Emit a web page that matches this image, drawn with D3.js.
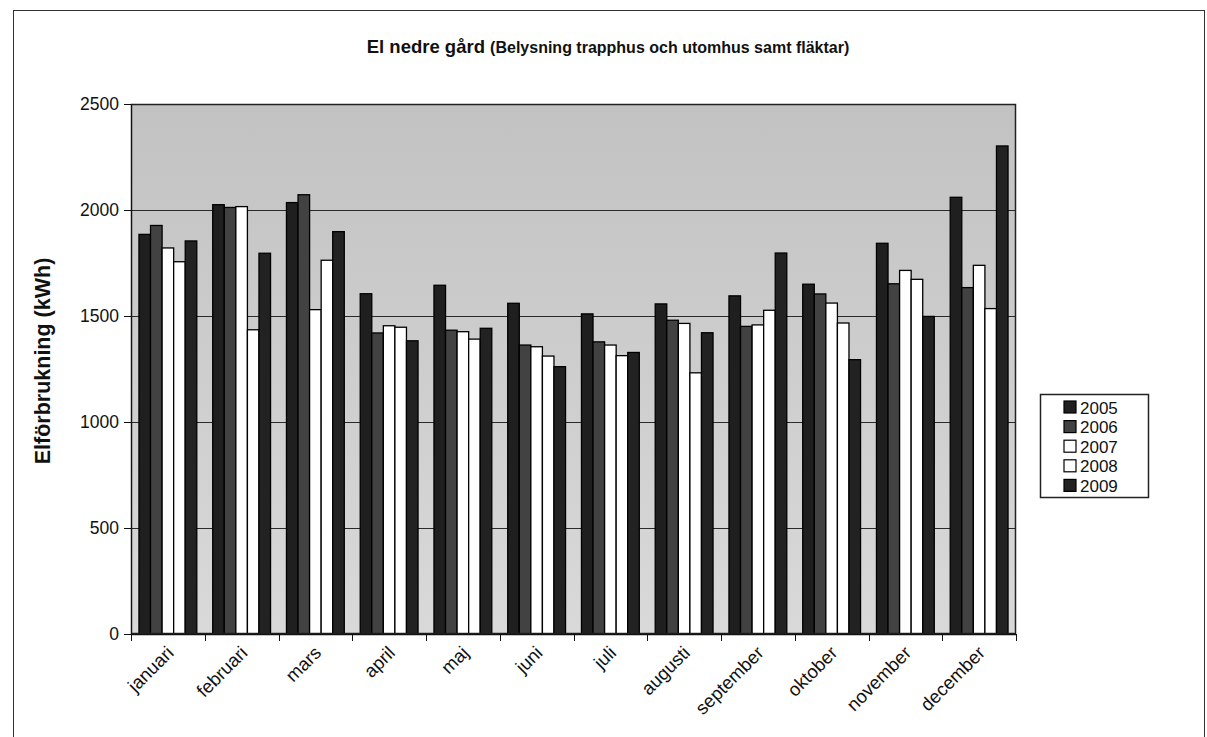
<!DOCTYPE html>
<html>
<head>
<meta charset="utf-8">
<script src="https://cdn.jsdelivr.net/npm/d3@7"></script>
<style>
  html, body { margin: 0; padding: 0; background: #fff; }
  svg { display: block; font-family: "Liberation Sans", Arial, sans-serif; }
</style>
</head>
<body>
<svg id="chart" width="1207" height="737"></svg>
<script>
// Monthly electricity use, lower yard (stair & outdoor lighting, fans), kWh
const months = ["januari", "februari", "mars", "april", "maj", "juni",
                "juli", "augusti", "september", "oktober", "november", "december"];
const years = ["2005", "2006", "2007", "2008", "2009"];

const v2005 = [1885, 2025, 2035, 1605, 1645, 1560, 1510, 1557, 1595, 1650, 1843, 2060];
const v2006 = [1927, 2012, 2072, 1420, 1433, 1363, 1378, 1480, 1451, 1604, 1652, 1634];
const v2007 = [1821, 2016, 1530, 1454, 1426, 1355, 1363, 1465, 1458, 1561, 1715, 1739];
const v2008 = [1756, 1435, 1763, 1447, 1391, 1311, 1313, 1232, 1527, 1467, 1673, 1535];
const v2009 = [1854, 1796, 1898, 1383, 1442, 1261, 1328, 1421, 1797, 1294, 1498, 2302];

const yTicks = [0, 500, 1000, 1500, 2000, 2500];

const series = [v2005, v2006, v2007, v2008, v2009];
const fills = ["#1f1f1f", "#424242", "#ffffff", "#ffffff", "#222222"];

const svg = d3.select("#chart");

// outer chart frame
svg.append("rect")
  .attr("x", 13.5).attr("y", 10.5)
  .attr("width", 1191).attr("height", 740)
  .attr("fill", "#fff").attr("stroke", "#333").attr("stroke-width", 1);

const plot = { left: 131, right: 1016, top: 104, bottom: 634 };

const x0 = d3.scaleBand()
  .domain(months)
  .range([plot.left, plot.right])
  .paddingInner(0.216)
  .paddingOuter(0.108);

const x1 = d3.scaleBand()
  .domain(years)
  .range([0, x0.bandwidth()]);

const y = d3.scaleLinear()
  .domain([0, 2500])
  .range([plot.bottom, plot.top]);

// plot area background
const defs = svg.append("defs");
const grad = defs.append("linearGradient")
  .attr("id", "plotBg").attr("x1", 0).attr("y1", 0).attr("x2", 0).attr("y2", 1);
grad.append("stop").attr("offset", "0%").attr("stop-color", "#c2c2c2");
grad.append("stop").attr("offset", "100%").attr("stop-color", "#d9d9d9");

svg.append("rect")
  .attr("x", plot.left).attr("y", plot.top)
  .attr("width", plot.right - plot.left).attr("height", plot.bottom - plot.top)
  .attr("fill", "url(#plotBg)");

// horizontal gridlines
svg.append("g")
  .selectAll("line")
  .data(yTicks.filter(t => t > 0 && t < 2500))
  .join("line")
  .attr("x1", plot.left).attr("x2", plot.right)
  .attr("y1", d => Math.round(y(d)) + 0.5).attr("y2", d => Math.round(y(d)) + 0.5)
  .attr("stroke", "#2a2a2a").attr("stroke-width", 1);

// bars
const groups = svg.append("g")
  .selectAll("g")
  .data(months)
  .join("g")
  .attr("transform", d => `translate(${x0(d)},0)`);

groups.selectAll("rect")
  .data((m, i) => years.map((yr, k) => ({ yr, k, v: series[k][i] })))
  .join("rect")
  .attr("x", d => x1(d.yr))
  .attr("y", d => y(d.v))
  .attr("width", x1.bandwidth())
  .attr("height", d => y(0) - y(d.v))
  .attr("fill", d => fills[d.k])
  .attr("stroke", "#000")
  .attr("stroke-width", 1.3);

// plot border
svg.append("rect")
  .attr("x", plot.left + 0.5).attr("y", plot.top + 0.5)
  .attr("width", plot.right - plot.left - 1).attr("height", plot.bottom - plot.top - 1)
  .attr("fill", "none").attr("stroke", "#222").attr("stroke-width", 1.5);

// y axis
const yAxis = d3.axisLeft(y)
  .tickValues(yTicks)
  .tickSize(7)
  .tickPadding(5)
  .tickFormat(d3.format("d"));

svg.append("g")
  .attr("transform", `translate(${plot.left},0)`)
  .call(yAxis)
  .call(g => g.select(".domain").attr("stroke", "#111"))
  .call(g => g.selectAll(".tick line").attr("stroke", "#111"))
  .call(g => g.selectAll("text")
    .attr("font-family", "Liberation Sans, Arial, sans-serif")
    .attr("font-size", 17.5).attr("fill", "#111"));

// x axis: ticks at category boundaries
const boundary = d3.scaleLinear().domain([0, months.length]).range([plot.left, plot.right]);
svg.append("line")
  .attr("x1", plot.left).attr("x2", plot.right)
  .attr("y1", plot.bottom + 0.5).attr("y2", plot.bottom + 0.5)
  .attr("stroke", "#111").attr("stroke-width", 1.5);
svg.append("g")
  .selectAll("line")
  .data(d3.range(months.length + 1))
  .join("line")
  .attr("x1", d => Math.round(boundary(d)) + 0.5).attr("x2", d => Math.round(boundary(d)) + 0.5)
  .attr("y1", plot.bottom).attr("y2", plot.bottom + 7)
  .attr("stroke", "#111");

// month labels, rotated
svg.append("g")
  .selectAll("text")
  .data(months)
  .join("text")
  .attr("transform", d => `translate(${x0(d) + x0.bandwidth() / 2 + 7},${plot.bottom + 20}) rotate(-45)`)
  .attr("text-anchor", "end")
  .attr("font-size", 18.5)
  .attr("fill", "#111")
  .text(d => d);

// y axis title
svg.append("text")
  .attr("transform", `translate(50,361) rotate(-90)`)
  .attr("text-anchor", "middle")
  .attr("font-size", 21.5)
  .attr("font-weight", "bold")
  .attr("fill", "#111")
  .text("Elförbrukning (kWh)");

// title
const title = svg.append("text")
  .attr("x", 608).attr("y", 53)
  .attr("text-anchor", "middle")
  .attr("font-weight", "bold")
  .attr("fill", "#111");
title.append("tspan").attr("font-size", 18.5).text("El nedre gård ");
title.append("tspan").attr("font-size", 16).text("(Belysning trapphus och utomhus samt fläktar)");

// legend
const legend = svg.append("g").attr("transform", "translate(1040,394)");
legend.append("rect")
  .attr("x", 0.5).attr("y", 0.5).attr("width", 108).attr("height", 103)
  .attr("fill", "#fff").attr("stroke", "#222").attr("stroke-width", 1.5);
const items = legend.selectAll("g.item")
  .data(years)
  .join("g")
  .attr("class", "item")
  .attr("transform", (d, i) => `translate(0,${13 + i * 19.6})`);
items.append("rect")
  .attr("x", 24).attr("y", -6).attr("width", 12).attr("height", 12)
  .attr("fill", (d, i) => fills[i]).attr("stroke", "#000").attr("stroke-width", 1.2);
items.append("text")
  .attr("x", 40).attr("y", 6.5)
  .attr("font-size", 17)
  .attr("fill", "#111")
  .text(d => d);
</script>
</body>
</html>
